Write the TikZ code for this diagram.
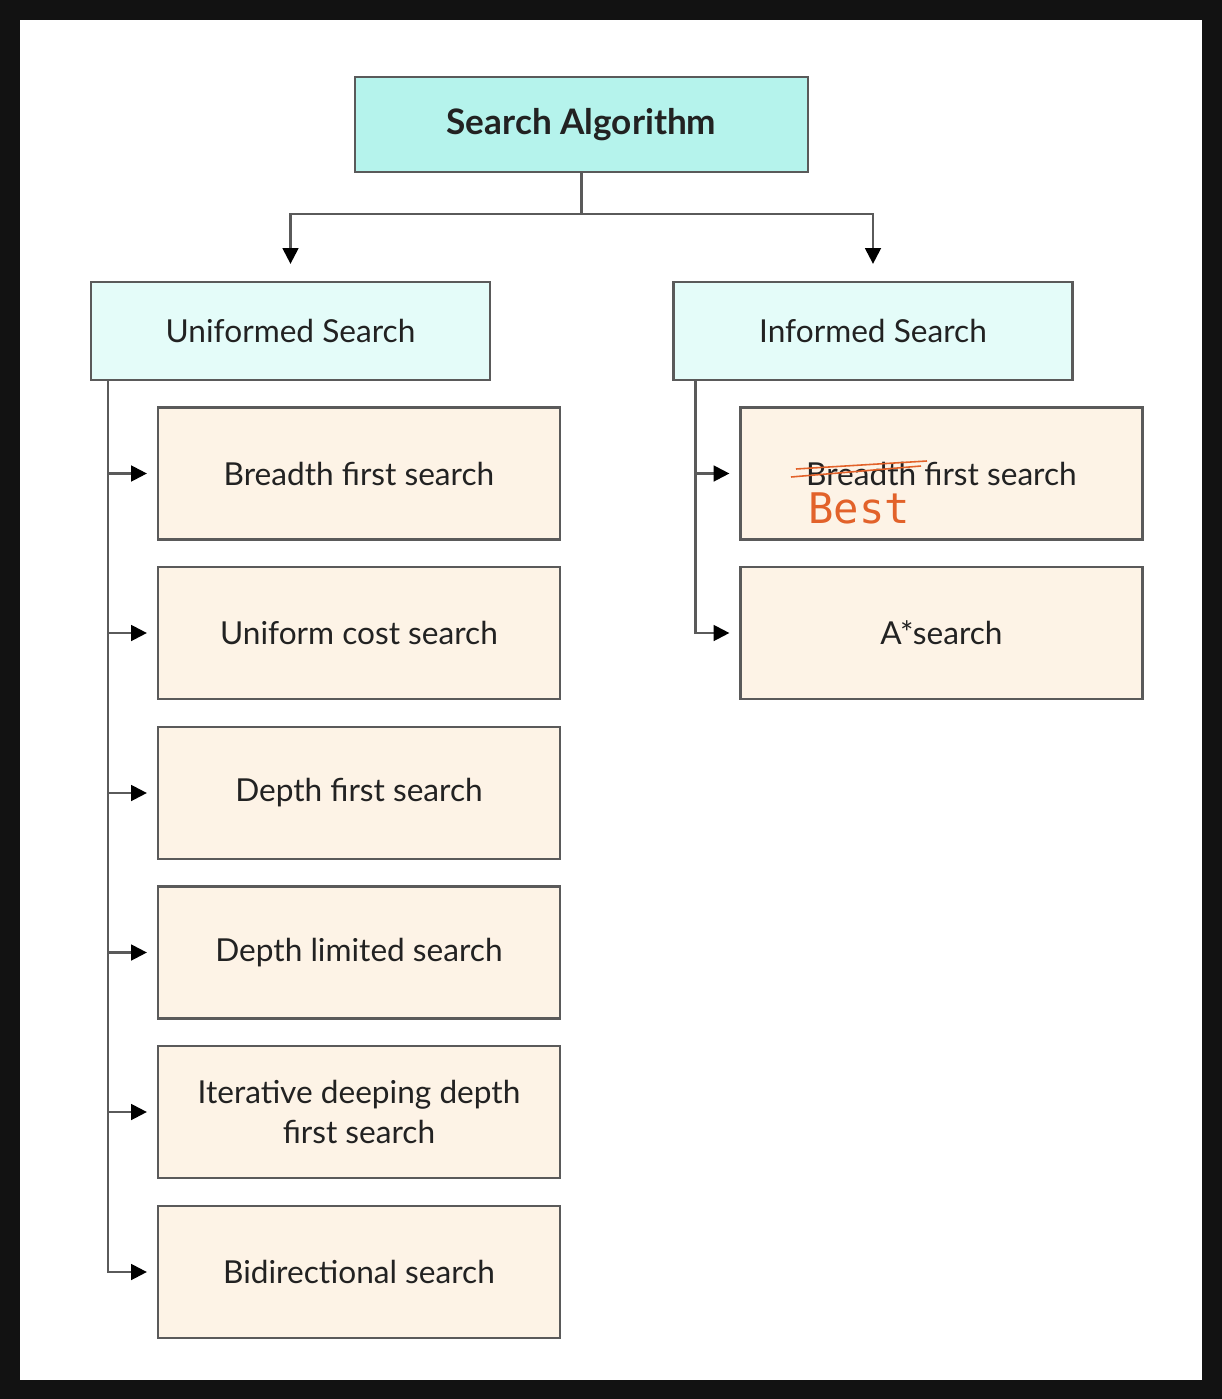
\documentclass[tikz,border=0pt]{standalone}
\usepackage{fontspec}
\setmainfont{Lato}
\newfontfamily\bestfont{DejaVu Sans Mono}
\usetikzlibrary{arrows.meta}

\definecolor{rootfill}{HTML}{B5F3EC}
\definecolor{groupfill}{HTML}{E4FCF9}
\definecolor{leaffill}{HTML}{FDF3E6}
\definecolor{linegray}{HTML}{5A5A5A}
\definecolor{textdark}{HTML}{222222}
\definecolor{noteorange}{HTML}{E2622A}

\begin{document}
\begin{tikzpicture}[x=0.02cm,y=-0.02cm,
  box/.style={draw=linegray,line width=1.3pt,inner sep=2pt,align=center,text=textdark,font=\fontsize{18}{22.5}\selectfont},
  rootbox/.style={box,fill=rootfill,minimum width=9.06cm,minimum height=1.9cm,font=\fontsize{20}{24}\selectfont\bfseries},
  groupbox/.style={box,fill=groupfill,minimum width=7.98cm,minimum height=1.96cm},
  leafbox/.style={box,fill=leaffill,minimum width=8.04cm,minimum height=2.64cm},
  link/.style={draw=linegray,line width=1.3pt},
  arrow/.style={link,-{Triangle[length=9pt,width=9pt,color=black]}},
  strike/.style={draw=noteorange,line width=0.9pt}]
% frame
\fill[black!93] (0,0) rectangle (1222,1399);
\fill[white] (20,20) rectangle (1202,1380);

% top
\node[rootbox] (root) at (581.5,124.5) {Search Algorithm};
\node[groupbox] (uninf) at (290.5,331) {Uniformed Search};
\node[groupbox] (inf) at (873,331) {Informed Search};

% uninformed
\node[leafbox] (bfs) at (359,473.5) {Breadth first search};
\node[leafbox] (ucs) at (359,633) {Uniform cost search};
\node[leafbox] (dfs) at (359,793) {Depth first search};
\node[leafbox] (dls) at (359,952.5) {Depth limited search};
\node[leafbox] (iddfs) at (359,1112) {Iterative deeping depth\\first search};
\node[leafbox] (bidir) at (359,1272) {Bidirectional search};

% informed
\node[leafbox] (best) at (941.5,473.5) {Breadth first search};
\node[leafbox] (astar) at (941.5,633) {A*search};

% edits
\draw[strike] (796,469) -- (927,461);
\draw[strike] (791,477) -- (921,466);
\node[anchor=base west,inner sep=0pt,text=noteorange,font=\bestfont\fontsize{24}{28}\selectfont] (bestnote) at (808,523) {Best};

% links
\coordinate (split) at (581.5,214);
\draw[link] (root.south) -- (split);
\draw[arrow] (split) -| ([yshift=0.34cm]uninf.north);
\draw[arrow] (split) -| ([yshift=0.34cm]inf.north);

\coordinate (ltrunk) at ([xshift=0.36cm]uninf.south west);
\draw[arrow] (ltrunk) |- ([xshift=-0.2cm]bfs.west);
\draw[arrow] (ltrunk) |- ([xshift=-0.2cm]ucs.west);
\draw[arrow] (ltrunk) |- ([xshift=-0.2cm]dfs.west);
\draw[arrow] (ltrunk) |- ([xshift=-0.2cm]dls.west);
\draw[arrow] (ltrunk) |- ([xshift=-0.2cm]iddfs.west);
\draw[arrow] (ltrunk) |- ([xshift=-0.2cm]bidir.west);

\coordinate (rtrunk) at ([xshift=0.46cm]inf.south west);
\draw[arrow] (rtrunk) |- ([xshift=-0.2cm]best.west);
\draw[arrow] (rtrunk) |- ([xshift=-0.2cm]astar.west);
\end{tikzpicture}
\end{document}
